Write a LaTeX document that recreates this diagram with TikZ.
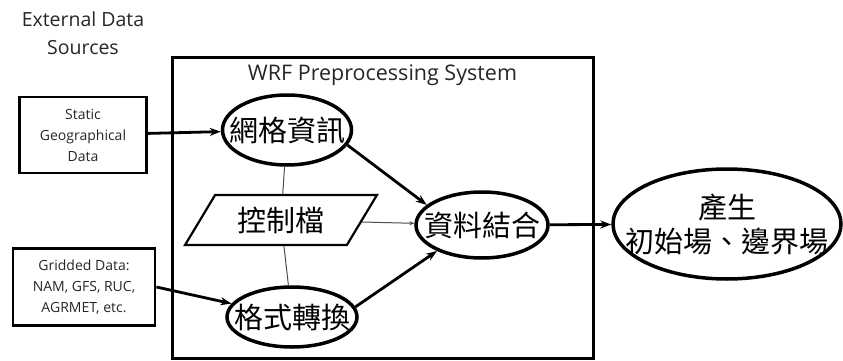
\documentclass[tikz,border=0pt]{standalone}
\usepackage{fontspec}
\setmainfont{Open Sans}
\newfontfamily\cjk{Noto Sans CJK TC}
\usetikzlibrary{positioning,shapes.geometric,arrows.meta}

\begin{document}
\begin{tikzpicture}[x=1pt, y=-1pt,
                    srcnode/.style={rectangle, draw, line width=2.8pt, align=center, inner sep=0pt, text=black!85, font=\fontsize{14}{21}\selectfont},
                    procnode/.style={ellipse, draw, line width=3.5pt, inner sep=0pt},
                    ctrlnode/.style={trapezium, trapezium left angle=53.5, trapezium right angle=126.5, trapezium stretches=true, draw, line width=2.2pt, inner sep=0pt, font=\cjk\fontsize{29}{34}\selectfont},
                    cjktext/.style={font=\cjk\fontsize{29}{34}\selectfont, align=center},
                    thick arrow/.style={line width=2.8pt, -{Stealth[length=11pt, width=8pt]}},
                    thin line/.style={line width=1pt, black!70},
                ]
                    \useasboundingbox (0,0) rectangle (843,361);

                    %Nodes
                    \node[align=center, text=black!85, font=\fontsize{19.5}{28}\selectfont](ext) at (83,33) {External Data\\Sources};
                    \node[srcnode, minimum width=127, minimum height=76](static) at (83,135) {Static\\Geographical\\Data};
                    \node[srcnode, minimum width=142, minimum height=77](gridded) at (84,287) {Gridded Data:\\NAM, GFS, RUC,\\AGRMET, etc.};

                    \node[draw, line width=3pt, minimum width=421, minimum height=300, inner sep=0pt](wps) at (382.5,208) {};
                    \node[text=black!85, font=\fontsize{21.5}{24}\selectfont](title)[below=5pt of wps.north] {WRF Preprocessing System};

                    \node[procnode, minimum width=129, minimum height=70, label={[cjktext]center:網格資訊}](grid) at (287,130) {};
                    \node[ctrlnode, minimum width=192, minimum height=50](ctrl) at (281,220) {控制檔};
                    \node[procnode, minimum width=130, minimum height=60, label={[cjktext]center:格式轉換}](fmt) at (292,317) {};
                    \node[procnode, minimum width=132, minimum height=66, label={[cjktext]center:資料結合}](merge) at (482,225) {};
                    \node[procnode, minimum width=228, minimum height=110, label={[cjktext]center:產生\\初始場、邊界場}](out) at (727,224) {};

                    %Lines
                    \draw[thick arrow](static) -- (grid);
                    \draw[thick arrow](gridded.east) -- (fmt);
                    \draw[thick arrow](grid.-14) -- (merge.160);
                    \draw[thick arrow](fmt.9) -- (merge.-150);
                    \draw[thick arrow](merge) -- (out);
                    \draw[thin line](ctrl) -- (grid);
                    \draw[thin line](ctrl) -- (fmt);
                    \draw[thin line, -{Stealth[length=5pt, width=4pt]}](ctrl) -- (merge);
                \end{tikzpicture}
\end{document}
